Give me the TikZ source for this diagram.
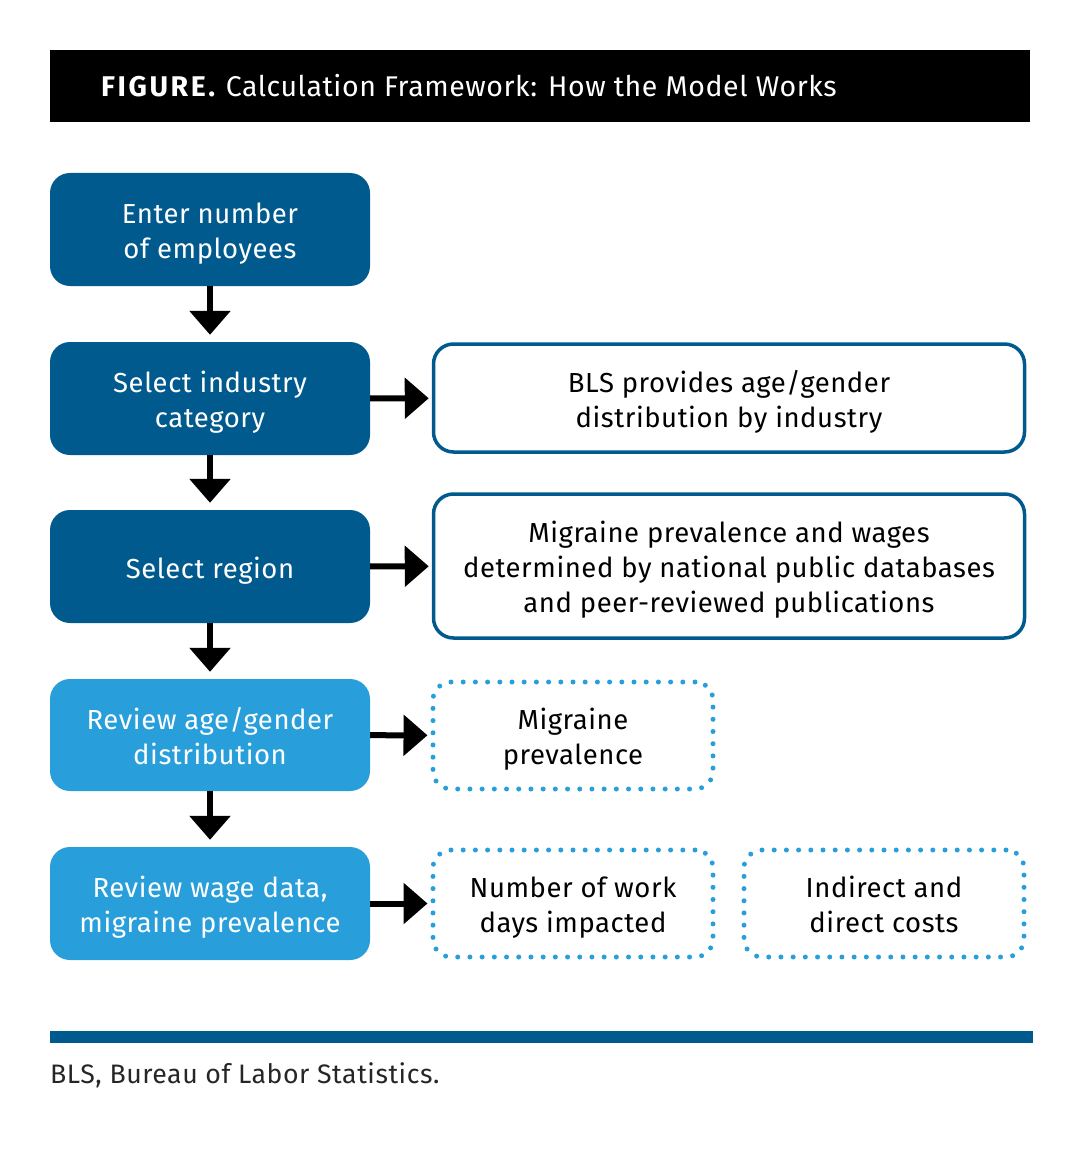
\documentclass[tikz,border=0pt]{standalone}
\usepackage{fontspec}
\setmainfont{Fira Sans}[LetterSpace=2]
\usetikzlibrary{arrows.meta}
\definecolor{dblue}{HTML}{005A8E}
\definecolor{lblue}{HTML}{289FDA}
\newcommand\tS{\rule{0pt}{30pt}}
\newcommand\bS{\rule[-7pt]{0pt}{7pt}}
\begin{document}
\begin{tikzpicture}[x=1pt,y=-1pt,
  txt/.style={font=\fontsize{27.5}{35}\selectfont, align=center},
  leftbox/.style={txt, rounded corners=20pt, minimum width=320pt, text=white, inner sep=0pt},
  dbox/.style={leftbox, fill=dblue},
  lbox/.style={leftbox, fill=lblue},
  solidbox/.style={txt, draw=dblue, line width=3.5pt, rounded corners=20pt, minimum width=591pt, inner sep=0pt},
  dotbox/.style={txt, draw=lblue, line width=5pt, dash pattern=on 0pt off 12.2pt, line cap=round, rounded corners=18pt, minimum width=280pt, minimum height=107pt, inner sep=0pt},
  arr/.style={line width=6pt, -{Triangle[width=40pt,length=24pt]}}
]
\useasboundingbox (0,0) rectangle (1084,1150);
\fill[black] (50,50) rectangle (1030,122);
\node[anchor=base west, text=white, inner sep=0pt, font=\fontsize{28.5}{30}\selectfont] (title) at (101,97)
  {\textbf{\addfontfeature{LetterSpace=9}FIGURE.} Calculation Framework: How the Model Works};

\node[dbox, minimum height=113pt] (b1) at (210,229.5) {\tS Enter number\\of employees\bS};
\node[dbox, minimum height=113pt] (b2) at (210,398.5) {\tS Select industry\\category\bS};
\node[dbox, minimum height=113pt] (b3) at (210,566.5) {\tS Select region\bS};
\node[lbox, minimum height=112pt] (b4) at (210,735) {\tS Review age/gender\\distribution\bS};
\node[lbox, minimum height=113pt] (b5) at (210,903.5) {\tS Review wage data,\\migraine prevalence\bS};

\node[solidbox, minimum height=108pt] (r2) at (729,398) {\tS BLS provides age/gender\\distribution by industry\bS};
\node[solidbox, minimum height=144pt] (r3) at (729,566) {\tS Migraine prevalence and wages\\determined by national public databases\\and peer-reviewed publications\bS};
\node[dotbox] (r4) at (573,735.5) {\tS Migraine\\prevalence\bS};
\node[dotbox] (r5) at (573,903.5) {\tS Number of work\\days impacted\bS};
\node[dotbox] (r6) at (884,903.5) {\tS Indirect and\\direct costs\bS};

\draw[arr, shorten >=7pt] (b1) -- (b2);
\draw[arr, shorten >=7pt] (b2) -- (b3);
\draw[arr, shorten >=7pt] (b3) -- (b4);
\draw[arr, shorten >=7pt] (b4) -- (b5);
\draw[arr, shorten >=3pt] (b2) -- (r2);
\draw[arr, shorten >=3pt] (b3) -- (r3);
\draw[arr, shorten >=3pt] (b4) -- (r4);
\draw[arr, shorten >=3pt] (b5) -- (r5);

\fill[dblue] (50,1031) rectangle (1033,1043);
\node[anchor=base west, inner sep=0pt, font=\fontsize{26.7}{30}\selectfont, text=black!85] (note) at (50,1083) {BLS, Bureau of Labor Statistics.};
\end{tikzpicture}
\end{document}
